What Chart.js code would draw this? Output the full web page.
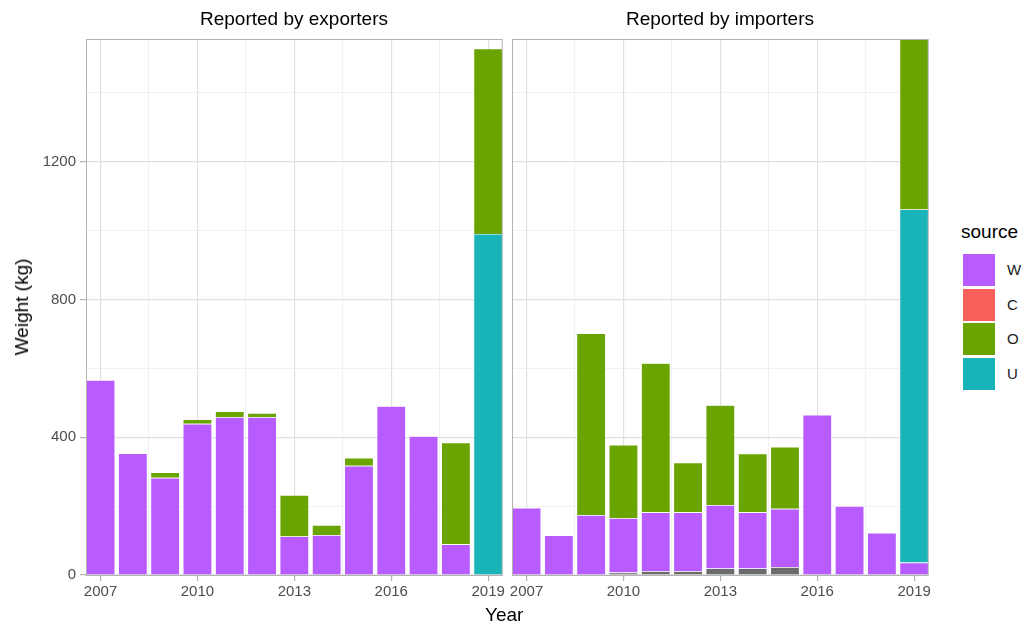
<!DOCTYPE html>
<html>
<head>
<meta charset="utf-8">
<script src="https://cdn.jsdelivr.net/npm/chart.js"></script>
<style>
  body { margin: 0; background: #fff; font-family: "Liberation Sans", Arial, sans-serif; }
  #wrap { position: relative; width: 1028px; height: 628px; overflow: hidden; }
  .box { position: absolute; top: 0; height: 628px; }
  .txt { position: absolute; color: #000; white-space: nowrap; }
  .strip { top: 8px; font-size: 19px; transform: translateX(-50%); }
  .key { position: absolute; left: 963px; width: 32px; height: 32px; }
  .klab { position: absolute; left: 1007px; font-size: 15px; color: #1a1a1a; }
</style>
</head>
<body>
<div id="wrap">
  <div class="box" style="left:0;width:507px"><canvas id="chart-exp"></canvas></div>
  <div class="box" style="left:507px;width:426px"><canvas id="chart-imp"></canvas></div>
  <div class="txt strip" style="left:294px">Reported by exporters</div>
  <div class="txt strip" style="left:720px">Reported by importers</div>
  <div class="txt" style="left:485px;top:604px;font-size:19px">Year</div>
  <div class="txt" style="left:22px;top:307px;font-size:19px;transform:translate(-50%,-50%) rotate(-90deg)">Weight (kg)</div>
  <div class="txt" style="left:961px;top:221px;font-size:19px">source</div>
  <div id="legend"></div>
</div>
<script>
// Datos (kg por anio)
const years = [2007, 2008, 2009, 2010, 2011, 2012, 2013, 2014, 2015, 2016, 2017, 2018, 2019];
const sources = ['W', 'C', 'O', 'U'];

// Exportadores
const expNA = [0, 0, 0, 0, 0, 0, 0, 0, 0, 0, 0, 0, 0];
const expW = [566, 353, 282, 439, 458, 458, 112, 116, 317, 490, 403, 89, 0];
const expC = [0, 0, 0, 0, 0, 0, 0, 0, 0, 0, 0, 0, 0];
const expO = [0, 0, 16, 13, 17, 12, 120, 29, 23, 0, 0, 295, 538];
const expU = [0, 0, 0, 0, 0, 0, 0, 0, 0, 0, 0, 0, 990];

// Importadores
const impNA = [0, 0, 0, 7, 11, 11, 19, 19, 23, 0, 0, 0, 0];
const impW = [195, 115, 174, 158, 171, 171, 184, 163, 169, 465, 200, 122, 36];
const impC = [0, 0, 0, 0, 0, 0, 0, 0, 0, 0, 0, 0, 0];
const impO = [0, 0, 527, 213, 433, 144, 290, 170, 180, 0, 0, 0, 545];
const impU = [0, 0, 0, 0, 0, 0, 0, 0, 0, 0, 0, 0, 1025];

const yTicksMajor = [0, 400, 800, 1200];
const xTicksMajor = [2007, 2010, 2013, 2016, 2019];

const colors = { NA: '#6b6b6b', W: '#B85CFF', C: '#F8605A', O: '#6AA400', U: '#19B3BA' };
const gridCol = '#E0E0E0';
const minorCol = '#EEEEEE';

// leyenda en HTML
const legend = document.getElementById('legend');
sources.forEach((s, i) => {
    const top = 254 + i * 34.5;
    legend.innerHTML += `<div class="key" style="top:${top}px;background:${colors[s]}"></div>` +
        `<div class="klab" style="top:${top + 7}px">${s}</div>`;
});

// borde del panel
const panelBorder = {
    id: 'panelBorder',
    afterDraw(chart) {
        const a = chart.chartArea, ctx = chart.ctx;
        ctx.save();
        ctx.strokeStyle = '#B3B3B3';
        ctx.lineWidth = 1;
        ctx.strokeRect(a.left + 0.5, a.top + 0.5, a.right - a.left - 1, a.bottom - a.top);
        ctx.restore();
    }
};

const isMajor = (c, list) => !!(c && c.tick && list.includes(c.tick.value));

const ds = (label, arr, col) => ({
    label: label,
    data: years.map((y, i) => ({ x: y, y: arr[i] > 0 ? arr[i] : null })),
    backgroundColor: col,
    borderColor: 'rgba(255,255,255,0.7)',
    borderWidth: 0.6,
    categoryPercentage: 1,
    barPercentage: 0.9
});

const createChart = (id, series, showY) => {
    const ctx = document.getElementById(id).getContext('2d');
    return new Chart(ctx, {
        type: 'bar',
        data: {
            datasets: [
                ds('NA', series[0], colors.NA),
                ds('W', series[1], colors.W),
                ds('C', series[2], colors.C),
                ds('U', series[4], colors.U),
                ds('O', series[3], colors.O)
            ]
        },
        options: {
            responsive: false,
            animation: false,
            layout: { padding: { top: 39, right: 4, left: 0, bottom: 0 } },
            plugins: { legend: { display: false }, tooltip: { enabled: false } },
            scales: {
                x: {
                    type: 'linear',
                    stacked: true,
                    offset: false,
                    min: 2006.55,
                    max: 2019.45,
                    border: { display: false },
                    afterFit: (s) => { s.height = 53; },
                    grid: {
                        offset: false,
                        color: (c) => isMajor(c, xTicksMajor) ? gridCol : minorCol,
                        lineWidth: (c) => isMajor(c, xTicksMajor) ? 1.2 : 0.8,
                        tickLength: 6,
                        tickColor: (c) => isMajor(c, xTicksMajor) ? '#B3B3B3' : 'rgba(0,0,0,0)'
                    },
                    ticks: {
                        stepSize: 1.5,
                        includeBounds: false,
                        maxRotation: 0,
                        autoSkip: false,
                        padding: 2,
                        color: '#4D4D4D',
                        font: { family: '"Liberation Sans", Arial, sans-serif', size: 15 },
                        callback: (v) => xTicksMajor.includes(v) ? String(v) : ''
                    }
                },
                y: {
                    stacked: true,
                    min: 0,
                    max: 1556,
                    border: { display: false },
                    afterFit: (s) => { s.width = showY ? 86 : 5; },
                    grid: {
                        color: (c) => isMajor(c, yTicksMajor) ? gridCol : minorCol,
                        lineWidth: (c) => isMajor(c, yTicksMajor) ? 1.2 : 0.8,
                        tickLength: showY ? 6 : 0,
                        drawTicks: showY,
                        tickColor: (c) => isMajor(c, yTicksMajor) ? '#B3B3B3' : 'rgba(0,0,0,0)'
                    },
                    ticks: {
                        display: showY,
                        stepSize: 200,
                        includeBounds: false,
                        padding: 4,
                        color: '#4D4D4D',
                        font: { family: '"Liberation Sans", Arial, sans-serif', size: 15 },
                        callback: (v) => yTicksMajor.includes(v) ? String(v) : ''
                    }
                }
            }
        },
        plugins: [panelBorder]
    });
};

document.getElementById('chart-exp').width = 507;
document.getElementById('chart-exp').height = 628;
document.getElementById('chart-imp').width = 426;
document.getElementById('chart-imp').height = 628;

createChart('chart-exp', [expNA, expW, expC, expO, expU], true);
createChart('chart-imp', [impNA, impW, impC, impO, impU], false);
</script>
</body>
</html>
